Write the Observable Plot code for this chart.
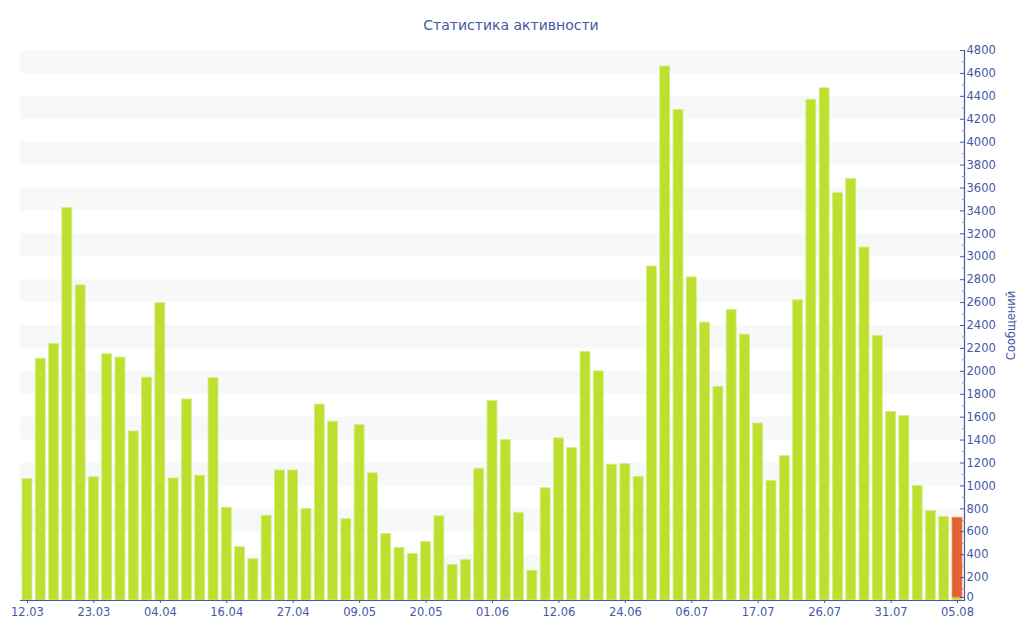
<!DOCTYPE html>
<html>
<head>
<meta charset="utf-8">
<script src="https://cdn.jsdelivr.net/npm/d3@7"></script>
<script src="https://cdn.jsdelivr.net/npm/@observablehq/plot@0.6"></script>
<style>
  body { margin: 0; background: #fff; font-family: "DejaVu Sans", sans-serif; }
  #title { height: 40px; box-sizing: border-box; padding-top: 16px; text-align: center; font-size: 14px; line-height: 18px; color: #4657a6; padding-right: 2px; }
</style>
</head>
<body>
<div id="title">Статистика активности</div>
<div id="chart"></div>
<script>
// Messages per period (green), last period split: earlier part green + current part red
const messages = [
  1060, 2110, 2240, 3425, 2750, 1075, 2150, 2120, 1475, 1945,
  2595, 1065, 1755, 1090, 1940, 810, 465, 360, 740, 1135,
  1135, 800, 1710, 1560, 710, 1530, 1110, 580, 460, 405,
  510, 735, 310, 355, 1150, 1740, 1400, 765, 260, 980,
  1415, 1330, 2170, 2000, 1185, 1190, 1080, 2915, 4660, 4280,
  2820, 2425, 1865, 2535, 2320, 1545, 1045, 1260, 2620, 4370,
  4470, 3555, 3680, 3080, 2310, 1645, 1610, 1000, 780, 730,
  25
];
const currentIndex = 70;
const currentValue = 697;
const tickLabels = ["12.03","23.03","04.04","16.04","27.04","09.05","20.05","01.06",
                    "12.06","24.06","06.07","17.07","26.07","31.07","05.08"];
const tickEvery = 5;
const yMajorTicks = d3.range(0, 4801, 200);
const yMinorTicks = d3.range(100, 4800, 200);
const bandStarts = d3.range(200, 4800, 400);

const rows = messages.map((v, i) => ({i, v, s: "past"}));
rows.push({i: currentIndex, v: currentValue, s: "current"});

const blue = "#4657a6";

const plot = Plot.plot({
  width: 1024,
  height: 600,
  marginTop: 10,
  marginBottom: 40,
  marginLeft: 20,
  marginRight: 60,
  style: {fontFamily: "DejaVu Sans", fontSize: "11px", color: blue, background: "#fff"},
  x: {type: "band", domain: d3.range(messages.length), paddingInner: 0.25, paddingOuter: 0, round: false, insetLeft: 2, insetRight: 2},
  y: {domain: [0, 4800]},
  color: {domain: ["past", "current"], range: ["#bde02f", "#e0622f"]},
  marks: [
    Plot.rectY(bandStarts, {y1: d => d, y2: d => d + 200, fill: "#f8f8f8"}),
    Plot.barY(rows, {x: "i", y: "v", fill: "s", stroke: d => d.s === "past" ? "#d6ec8a" : "#e98a60", strokeWidth: 0.8, order: ["past", "current"]}),
    Plot.ruleY([0], {stroke: blue, strokeWidth: 1.2}),
    Plot.frame({anchor: "right", stroke: blue, strokeWidth: 1.2}),
    Plot.axisX({ticks: d3.range(0, messages.length, tickEvery), tickFormat: i => tickLabels[i / tickEvery], tickSize: 3, tickPadding: 4, stroke: blue, fill: blue, label: null, fontSize: 11.5}),
    Plot.axisY({anchor: "right", ticks: yMinorTicks, tickSize: 3, insetRight: 3, tickFormat: () => "", stroke: "#8a94c4", label: null}),
    Plot.axisY({anchor: "right", ticks: yMajorTicks.filter(d => d > 0), tickSize: 5, insetRight: 5, tickPadding: 2, tickFormat: d => String(d), stroke: blue, fill: blue, fontSize: 11.5,
      label: "Сообщений", labelAnchor: "center", labelArrow: "none", labelOffset: 50}),
    Plot.axisY({anchor: "right", ticks: [0], tickSize: 5, insetRight: 5, tickPadding: 2, dy: -3, fontSize: 11.5, tickFormat: d => String(d), stroke: blue, fill: blue, label: null})
  ]
});
document.getElementById("chart").appendChild(plot);
</script>
</body>
</html>
